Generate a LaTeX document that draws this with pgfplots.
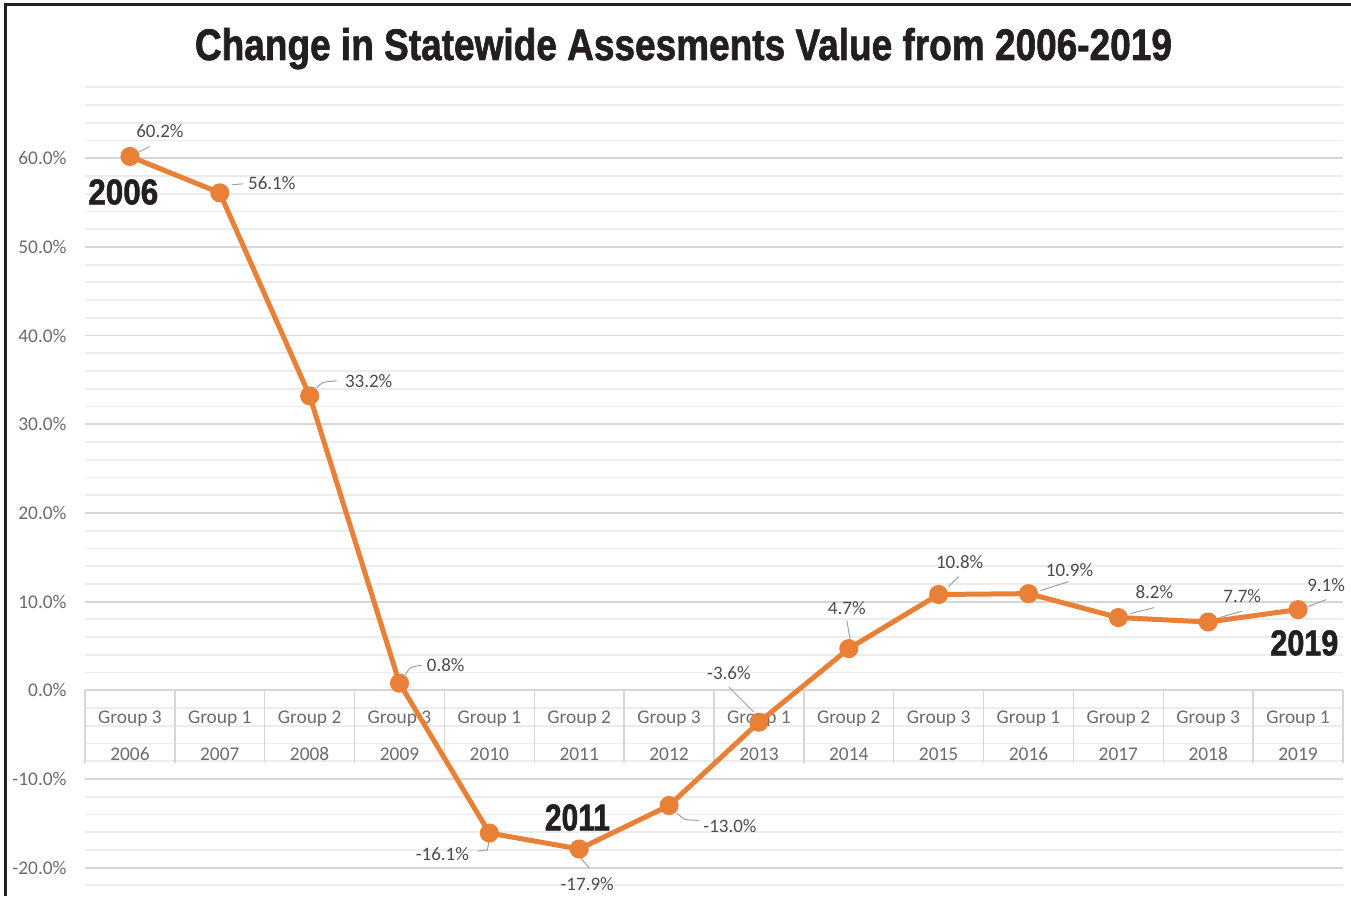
\documentclass[border=0pt]{standalone}
\usepackage{pgfplots}
\pgfplotsset{compat=1.18}
\usepackage{fontspec}
\setmainfont{Carlito}
\newfontfamily\headfont{Liberation Sans}[BoldFont={Liberation Sans Bold}, BoldFeatures={FakeBold=1.6}]

\definecolor{lineorange}{RGB}{233,128,55}
\definecolor{majgrid}{RGB}{214,214,214}
\definecolor{mingrid}{RGB}{236,236,236}
\definecolor{ticktext}{RGB}{108,108,108}
\definecolor{valtext}{RGB}{75,75,75}
\definecolor{leadgray}{RGB}{160,160,160}
\definecolor{frame}{RGB}{35,31,32}

\begin{document}
\begin{tikzpicture}
\useasboundingbox (0,0) rectangle (675.5pt,448pt);
\begin{axis}[
    at={(42.5pt,0pt)}, anchor=south west,
    scale only axis,
    width=629pt, height=404.35pt,
    xmin=-0.5, xmax=13.5,
    ymin=-23.2, ymax=68,
    axis x line=middle, axis y line=left,
    axis line style={draw=none},
    hide obscured x ticks=false, hide obscured y ticks=false,
    major tick length=0pt, minor tick length=0pt,
    xtick={0,...,13},
    xticklabels={{Group 3\\2006},{Group 1\\2007},{Group 2\\2008},{Group 3\\2009},
                 {Group 1\\2010},{Group 2\\2011},{Group 3\\2012},{Group 1\\2013},
                 {Group 2\\2014},{Group 3\\2015},{Group 1\\2016},{Group 2\\2017},
                 {Group 3\\2018},{Group 1\\2019}},
    xticklabel style={anchor=north, align=center, inner sep=0pt, yshift=-10pt,
        font=\fontsize{9.7}{18.5}\selectfont, text=ticktext},
    ytick={-20,-10,...,60},
    minor ytick={-22,-18,-16,-14,-12,-8,-6,-4,-2,2,4,6,8,12,14,16,18,22,24,26,28,
                 32,34,36,38,42,44,46,48,52,54,56,58,62,64,66,68},
    yticklabel={\pgfmathprintnumber[fixed,fixed zerofill,precision=1]{\tick}\%},
    yticklabel style={inner sep=0pt, xshift=-9pt, font=\fontsize{9.7}{11}\selectfont,
        text=ticktext},
    /pgf/number format/assume math mode=true,
    ymajorgrids, yminorgrids,
    major grid style={majgrid, line width=0.9pt},
    minor grid style={mingrid, line width=0.9pt},
    clip=false,
]
% category table separators
\pgfplotsinvokeforeach{0,...,14}{
  \draw[majgrid, line width=0.7pt] (axis cs:#1-0.5,0) -- (axis cs:#1-0.5,-8.2);
}
\addplot[lineorange, line width=2.5pt, mark=*, mark size=3.5pt,
         mark options={fill=lineorange, draw=lineorange}] coordinates {
  (0,60.2) (1,56.1) (2,33.2) (3,0.8) (4,-16.1) (5,-17.9) (6,-13.0)
  (7,-3.6) (8,4.7) (9,10.8) (10,10.9) (11,8.2) (12,7.7) (13,9.1)
};
\tikzset{leader/.style={leadgray, line width=0.5pt},
         val/.style={text=valtext, inner sep=0pt, font=\fontsize{9.5}{11}\selectfont}}
% data labels with leader lines
\draw[leader] (axis cs:0,60.2) ++(4pt,2pt) -- ++(6pt,3pt);
\node[val] at (axis cs:0,60.2) [xshift=15pt, yshift=12.5pt] {60.2\%};
\draw[leader] (axis cs:1,56.1) ++(6pt,4pt) -- ++(5.5pt,0.5pt);
\node[val, anchor=west] at (axis cs:1,56.1) [xshift=14pt, yshift=5pt] {56.1\%};
\draw[leader] (axis cs:2,33.2) ++(3.5pt,4pt) .. controls +(3pt,3pt) .. ++(10pt,3.5pt);
\node[val, anchor=west] at (axis cs:2,33.2) [xshift=17.5pt, yshift=7.5pt] {33.2\%};
\draw[leader] (axis cs:3,0.8) ++(3pt,4pt) .. controls +(2pt,4pt) .. ++(8pt,5pt);
\node[val, anchor=west] at (axis cs:3,0.8) [xshift=13.5pt, yshift=9pt] {0.8\%};
\draw[leader] (axis cs:4,-16.1) ++(0pt,-3pt) -- ++(-1pt,-5.5pt) -- ++(-5pt,-0.5pt);
\node[val, anchor=east] at (axis cs:4,-16.1) [xshift=-10pt, yshift=-10.5pt] {-16.1\%};
\draw[leader] (axis cs:5,-17.9) ++(0pt,-3.5pt) -- ++(5pt,-6pt);
\node[val] at (axis cs:5,-17.9) [xshift=4pt, yshift=-17.5pt] {-17.9\%};
\draw[leader] (axis cs:6,-13.0) ++(4pt,-4pt) -- ++(4pt,-3pt) -- ++(7pt,-0.5pt);
\node[val, anchor=west] at (axis cs:6,-13.0) [xshift=17pt, yshift=-10.5pt] {-13.0\%};
\draw[leader] (axis cs:7,-3.6) ++(-2.5pt,5pt) -- ++(-12.5pt,12.5pt);
\node[val] at (axis cs:7,-3.6) [xshift=-15pt, yshift=24.5pt] {-3.6\%};
\draw[leader] (axis cs:8,4.7) ++(1pt,3pt) -- ++(-2pt,11pt);
\node[val] at (axis cs:8,4.7) [xshift=-1pt, yshift=20.5pt] {4.7\%};
\draw[leader] (axis cs:9,10.8) ++(5pt,4pt) -- ++(5pt,5pt);
\node[val] at (axis cs:9,10.8) [xshift=10.5pt, yshift=16pt] {10.8\%};
\draw[leader] (axis cs:10,10.9) ++(6pt,1.5pt) -- ++(14pt,4.5pt);
\node[val] at (axis cs:10,10.9) [xshift=20.5pt, yshift=12pt] {10.9\%};
\draw[leader] (axis cs:11,8.2) ++(6pt,2pt) -- ++(12pt,3pt);
\node[val] at (axis cs:11,8.2) [xshift=18pt, yshift=12.5pt] {8.2\%};
\draw[leader] (axis cs:12,7.7) ++(5pt,2pt) -- ++(12pt,3.5pt);
\node[val] at (axis cs:12,7.7) [xshift=17pt, yshift=13pt] {7.7\%};
\draw[leader] (axis cs:13,9.1) ++(5pt,1.5pt) -- ++(9pt,3.5pt);
\node[val] at (axis cs:13,9.1) [xshift=14pt, yshift=12pt] {9.1\%};
% large year callouts
\node[anchor=base west, inner sep=0pt, text=frame] at (axis cs:-0.468,54.8)
  {\resizebox{35pt}{12.5pt}{\headfont\bfseries 2006}};
\node[anchor=base, inner sep=0pt, text=frame] at (axis cs:4.98,-15.8)
  {\resizebox{32.5pt}{13pt}{\headfont\bfseries 2011}};
\node[anchor=base, inner sep=0pt, text=frame] at (axis cs:13.07,3.95)
  {\resizebox{34pt}{12.5pt}{\headfont\bfseries 2019}};
\end{axis}
% title and frame
\node[anchor=base, inner sep=0pt, text=frame] at (341.75pt,418pt)
  {\resizebox{488.5pt}{16pt}{\headfont\bfseries Change in Statewide Assesments Value from 2006-2019}};
\draw[frame, line width=1.5pt] (2.5pt,0pt) -- (2.5pt,445.5pt) -- (675.5pt,445.5pt);
\end{tikzpicture}
\end{document}
